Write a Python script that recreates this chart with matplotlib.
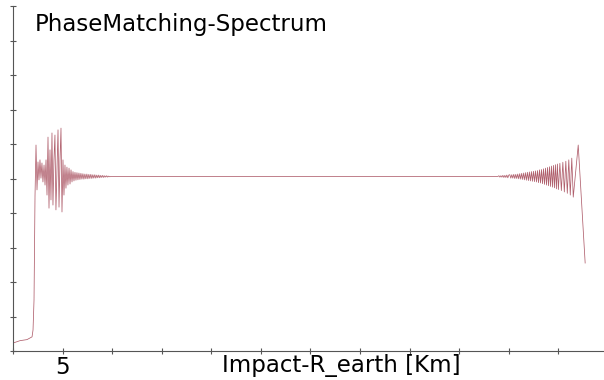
import numpy as np
import matplotlib
matplotlib.use('Agg')
import matplotlib.pyplot as plt

# impact distance (km) and phase-matching value
rise_x = [0.00, 0.71, 1.41, 1.92, 2.02, 2.12, 2.22]
rise_y = [0.23, 0.30, 0.33, 0.41, 0.61, 1.48, 4.50]

burst_x = [2.32, 2.42, 2.52, 2.62, 2.72, 2.82, 2.92, 3.02, 3.13, 3.23,
           3.33, 3.43, 3.53, 3.63, 3.73, 3.83, 3.93, 4.03, 4.13, 4.23,
           4.33, 4.44, 4.54, 4.64, 4.74, 4.84, 4.94, 5.04, 5.14, 5.24,
           5.34, 5.44, 5.54, 5.65, 5.75, 5.85, 5.95]
burst_y = [5.97, 4.67, 5.48, 4.96, 5.54, 5.01, 5.45, 4.90, 5.39, 4.81,
           5.54, 4.52, 6.20, 4.14, 5.83, 4.38, 6.32, 4.23, 5.54, 6.26,
           4.09, 5.25, 6.41, 4.17, 5.54, 6.46, 4.03, 5.54, 4.52, 5.39,
           4.72, 5.33, 4.81, 5.30, 4.84, 5.25, 4.90]

tail_x = [6.05, 6.15, 6.25, 6.35, 6.45, 6.55, 6.65, 6.75, 6.85, 6.95,
          7.05, 7.15, 7.25, 7.35, 7.45, 7.55, 7.65, 7.75, 7.85, 7.95,
          8.05, 8.15, 8.25, 8.35, 8.45, 8.55, 8.65, 8.75, 8.85, 8.95,
          9.05, 9.15, 9.25, 9.35, 9.45, 9.55, 9.65, 9.75, 9.90, 10.2]
tail_y = [5.20, 4.93, 5.18, 4.95, 5.17, 4.96, 5.16, 4.97, 5.15, 4.98,
          5.14, 4.98, 5.13, 4.99, 5.13, 4.99, 5.12, 5.00, 5.12, 5.00,
          5.11, 5.01, 5.11, 5.01, 5.10, 5.02, 5.10, 5.02, 5.09, 5.03,
          5.09, 5.03, 5.08, 5.04, 5.08, 5.04, 5.07, 5.05, 5.06, 5.06]

flat_x = [20.0, 30.0, 40.0, 48.9]
flat_y = [5.06, 5.06, 5.06, 5.06]

fan_x = [49.0, 49.1, 49.2, 49.3, 49.4, 49.5, 49.6, 49.7, 49.8, 49.9, 50.0,
         50.1, 50.2, 50.3, 50.4, 50.5, 50.6, 50.7, 50.8, 50.9, 51.0,
         51.1, 51.2, 51.3, 51.4, 51.5, 51.6, 51.7, 51.8, 51.9, 52.0,
         52.1, 52.2, 52.3, 52.4, 52.5, 52.6, 52.7, 52.8, 52.9, 53.0,
         53.1, 53.2, 53.3, 53.4, 53.5, 53.6, 53.7, 53.8, 53.9, 54.0,
         54.1, 54.2, 54.3, 54.4, 54.5, 54.6, 54.7, 54.8, 54.9, 55.0,
         55.15, 55.3, 55.45, 55.6, 55.75, 55.9, 56.05, 56.2, 56.35, 56.5,
         57.0, 57.7]
fan_y = [5.08, 5.04, 5.08, 5.04, 5.09, 5.03, 5.09, 5.03, 5.10, 5.02, 5.10,
         5.11, 5.01, 5.11, 5.01, 5.12, 5.00, 5.12, 5.00, 5.13, 4.99,
         5.14, 4.98, 5.15, 4.97, 5.16, 4.96, 5.17, 4.95, 5.18, 4.94,
         5.19, 4.93, 5.20, 4.92, 5.21, 4.91, 5.22, 4.90, 5.23, 4.88,
         5.25, 4.87, 5.26, 4.85, 5.28, 4.83, 5.30, 4.81, 5.32, 4.79,
         5.34, 4.77, 5.36, 4.75, 5.38, 4.73, 5.40, 4.70, 5.42, 4.68,
         5.44, 4.65, 5.47, 4.61, 5.50, 4.57, 5.54, 4.52, 5.59, 4.46,
         5.97, 2.55]

x = np.array(rise_x + burst_x + tail_x + flat_x + fan_x)
y = np.array(rise_y + burst_y + tail_y + flat_y + fan_y)

xticks = [0, 5, 10, 15, 20, 25, 30, 35, 40, 45, 50, 55]
xtick_labels = ['', '5', '', '', '', '', '', '', '', '', '', '']

fig = plt.figure(figsize=(6.04, 3.8), dpi=100)
ax = fig.add_axes([13 / 604, 29 / 380, 591 / 604, 345 / 380])

ax.plot(x, y, color='#8e1b2e', linewidth=0.55, alpha=0.7)

ax.set_xlim(0, 59.6)
ax.set_ylim(0, 10)
ax.set_xticks(xticks)
ax.set_xticklabels(xtick_labels, fontsize=16.5, family='DejaVu Sans')
ax.set_yticks(range(11))
ax.set_yticklabels([])
ax.tick_params(direction='inout', length=5, width=0.8, color='#555555', pad=1)

for side in ['top', 'right']:
    ax.spines[side].set_visible(False)
for side in ['left', 'bottom']:
    ax.spines[side].set_color('#555555')
    ax.spines[side].set_linewidth(0.8)

fig.text(35 / 604, 1 - 31 / 380, 'PhaseMatching-Spectrum', fontsize=16.5,
         family='DejaVu Sans', va='baseline', ha='left')
fig.text(341 / 604, 1 - 372 / 380, 'Impact-R_earth [Km]', fontsize=16.5,
         family='DejaVu Sans', va='baseline', ha='center')

fig.savefig('out.png', dpi=100)
